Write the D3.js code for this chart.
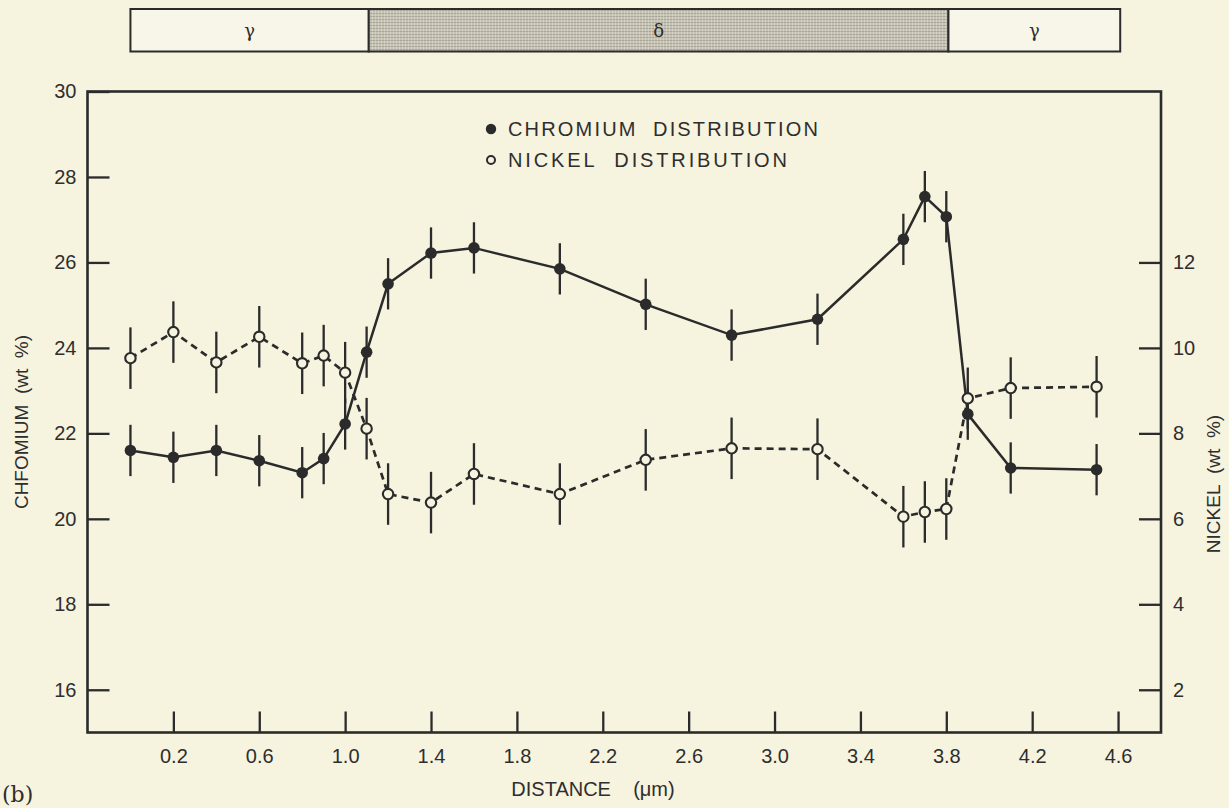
<html>
<head>
<title>Chromium and nickel distribution</title>
<script src="https://cdn.jsdelivr.net/npm/d3@7"></script>
<style>
body { margin: 0; background: #f6f3df; }
svg { display: block; }
text { font-family: "Liberation Sans", Arial, sans-serif; fill: #2e2e2e; }
</style>
</head>
<body>
<svg width="1229" height="808"></svg>
<script>

// values (distance in um, wt %)
var distance = [0.0, 0.2, 0.4, 0.6, 0.8, 0.9, 1.0, 1.1, 1.2, 1.4, 1.6, 2.0, 2.4, 2.8, 3.2, 3.6, 3.7, 3.8, 3.9, 4.1, 4.5];
var chromium = [21.60, 21.44, 21.60, 21.36, 21.08, 21.41, 22.22, 23.90, 25.50, 26.22, 26.34, 25.85, 25.02, 24.30, 24.67, 26.54, 27.54, 27.07, 22.45, 21.19, 21.15];
var nickel = [9.76, 10.37, 9.66, 10.26, 9.64, 9.82, 9.42, 8.11, 6.58, 6.38, 7.05, 6.58, 7.38, 7.65, 7.63, 6.05, 6.16, 6.23, 8.82, 9.06, 9.09];
var chromiumErr = 0.6,
    nickelErr = 0.72;

var xTicks = [0.2, 0.6, 1.0, 1.4, 1.8, 2.2, 2.6, 3.0, 3.4, 3.8, 4.2, 4.6];
var chromiumTicks = [16, 18, 20, 22, 24, 26, 28, 30];
var nickelTicks = [2, 4, 6, 8, 10, 12];

var phaseNames = ["γ", "δ", "γ"];
var phaseEdges = [0, 1.11, 3.81, 4.61];

var ink = "#2b2b2b",
    paper = "#f6f3df",
    sp = "\u00a0\u00a0";

var svg = d3.select("svg"),
    margin = {top: 91.5, right: 68, bottom: 75.5, left: 87.5},
    width = +svg.attr("width") - margin.left - margin.right,
    height = +svg.attr("height") - margin.top - margin.bottom;

svg.append("rect").attr("width", 1229).attr("height", 808).attr("fill", paper);

var x = d3.scaleLinear().domain([-0.2, 4.8]).range([0, width]);
var y = d3.scaleLinear().domain([15, 30]).range([height, 0]);
var yNi = d3.scaleLinear().domain([1, 16]).range([height, 0]);

// stipple for the delta phase
var pat = svg.append("defs").append("pattern")
    .attr("id", "stipple")
    .attr("width", 3).attr("height", 3)
    .attr("patternUnits", "userSpaceOnUse");
pat.append("rect").attr("width", 3).attr("height", 3).attr("fill", "#d9d6c6");
pat.append("circle").attr("cx", 1.5).attr("cy", 1.5).attr("r", 0.9).attr("fill", "#8d8b80");

// phase bar on top
var bar = svg.append("g").attr("transform", "translate(" + margin.left + ",0)");
var phases = phaseNames.map(function(n, i) { return {name: n, x0: phaseEdges[i], x1: phaseEdges[i + 1]}; });

bar.selectAll("rect")
    .data(phases)
  .enter().append("rect")
    .attr("x", function(d) { return x(d.x0); })
    .attr("width", function(d) { return x(d.x1) - x(d.x0); })
    .attr("y", 9)
    .attr("height", 42.5)
    .attr("fill", function(d) { return d.name == "δ" ? "url(#stipple)" : "#f8f6e8"; })
    .attr("stroke", ink)
    .attr("stroke-width", 2);

bar.selectAll("text")
    .data(phases)
  .enter().append("text")
    .attr("x", function(d) { return (x(d.x0) + x(d.x1)) / 2; })
    .attr("y", 31)
    .attr("dy", "0.35em")
    .attr("text-anchor", "middle")
    .style("font-family", "'DejaVu Serif', serif")
    .style("font-size", "18px")
    .text(function(d) { return d.name; });

var g = svg.append("g").attr("transform", "translate(" + margin.left + "," + margin.top + ")");

// axes, ticks pointing inward
g.append("g")
    .attr("class", "axis")
    .attr("transform", "translate(0," + height + ")")
    .call(d3.axisBottom(x).tickValues(xTicks).tickSize(-21).tickPadding(16).tickFormat(d3.format(".1f")));

g.append("g")
    .attr("class", "axis")
    .call(d3.axisLeft(y).tickValues(chromiumTicks).tickSize(-22).tickPadding(11));

g.append("g")
    .attr("class", "axis")
    .attr("transform", "translate(" + width + ",0)")
    .call(d3.axisRight(yNi).tickValues(nickelTicks).tickSize(-22).tickPadding(12));

g.selectAll(".axis .domain").remove();
g.selectAll(".axis line").attr("stroke", ink).attr("stroke-width", 2.3);
g.selectAll(".axis text").style("font-size", "20px").attr("fill", "#2e2e2e");

g.append("rect")
    .attr("width", width)
    .attr("height", height)
    .attr("fill", "none")
    .attr("stroke", ink)
    .attr("stroke-width", 2.6);

var line = d3.line()
    .x(function(d, i) { return x(distance[i]); })
    .y(function(d) { return d; });

g.append("path")
    .datum(nickel.map(function(v) { return yNi(v); }))
    .attr("d", line)
    .attr("fill", "none")
    .attr("stroke", ink)
    .attr("stroke-width", 2.7)
    .attr("stroke-dasharray", "7,5");

g.append("path")
    .datum(chromium.map(function(v) { return y(v); }))
    .attr("d", line)
    .attr("fill", "none")
    .attr("stroke", ink)
    .attr("stroke-width", 2.5);

// error bars
g.selectAll(".err-cr")
    .data(chromium)
  .enter().append("line")
    .attr("x1", function(d, i) { return x(distance[i]); })
    .attr("x2", function(d, i) { return x(distance[i]); })
    .attr("y1", function(d) { return y(d - chromiumErr); })
    .attr("y2", function(d) { return y(d + chromiumErr); })
    .attr("stroke", ink)
    .attr("stroke-width", 2.3);

g.selectAll(".err-ni")
    .data(nickel)
  .enter().append("line")
    .attr("x1", function(d, i) { return x(distance[i]); })
    .attr("x2", function(d, i) { return x(distance[i]); })
    .attr("y1", function(d) { return yNi(d - nickelErr); })
    .attr("y2", function(d) { return yNi(d + nickelErr); })
    .attr("stroke", ink)
    .attr("stroke-width", 2.3);

g.selectAll(".dot-cr")
    .data(chromium)
  .enter().append("circle")
    .attr("cx", function(d, i) { return x(distance[i]); })
    .attr("cy", function(d) { return y(d); })
    .attr("r", 5.8)
    .attr("fill", ink);

g.selectAll(".dot-ni")
    .data(nickel)
  .enter().append("circle")
    .attr("cx", function(d, i) { return x(distance[i]); })
    .attr("cy", function(d) { return yNi(d); })
    .attr("r", 5.2)
    .attr("fill", paper)
    .attr("stroke", ink)
    .attr("stroke-width", 2.1);

// legend
var legend = svg.append("g");
legend.append("circle").attr("cx", 491).attr("cy", 129).attr("r", 5.2).attr("fill", ink);
legend.append("circle").attr("cx", 491).attr("cy", 160).attr("r", 4).attr("fill", paper).attr("stroke", ink).attr("stroke-width", 2);
legend.append("text").attr("x", 508).attr("y", 129).attr("dy", "0.36em")
    .style("font-size", "20px").attr("textLength", 310).attr("lengthAdjust", "spacing")
    .text("CHROMIUM" + sp + "DISTRIBUTION");
legend.append("text").attr("x", 508).attr("y", 160).attr("dy", "0.36em")
    .style("font-size", "20px").attr("textLength", 279).attr("lengthAdjust", "spacing")
    .text("NICKEL" + sp + "DISTRIBUTION");

// axis titles
svg.append("text")
    .attr("transform", "translate(28,422) rotate(-90)")
    .attr("text-anchor", "middle")
    .style("font-size", "19px")
    .text("CHFOMIUM" + sp + "(wt" + sp + "%)");

svg.append("text")
    .attr("transform", "translate(1220,484) rotate(-90)")
    .attr("text-anchor", "middle")
    .style("font-size", "19px")
    .text("NICKEL" + sp + "(wt" + sp + "%)");

svg.append("text")
    .attr("x", 593)
    .attr("y", 796)
    .attr("text-anchor", "middle")
    .style("font-size", "20px")
    .text("DISTANCE" + sp + sp + "(μm)");

svg.append("text")
    .attr("x", 2)
    .attr("y", 802)
    .style("font-family", "'DejaVu Serif', serif")
    .style("font-size", "22px")
    .text("(b)");

</script>
</body>
</html>
